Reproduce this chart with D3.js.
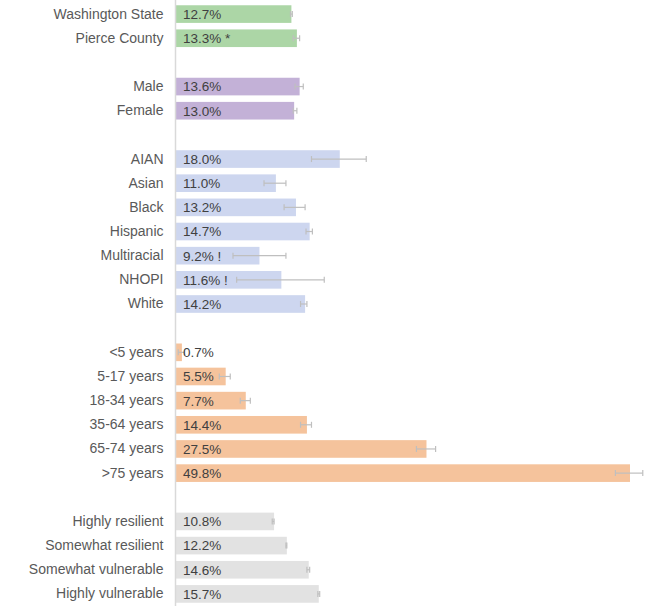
<!DOCTYPE html>
<html>
<head>
<meta charset="utf-8">
<script src="https://cdn.jsdelivr.net/npm/d3@7"></script>
<style>
	body { margin: 0; background: #fff; }
	text { font-family: "Liberation Sans", Arial, sans-serif; }
</style>
</head>
<body>
<div id="plot"></div>
<script>
// rows of the chart, "" = empty spacer row between groups
var categories = ["Washington State", "Pierce County", "",
	"Male", "Female", "",
	"AIAN", "Asian", "Black", "Hispanic", "Multiracial", "NHOPI", "White", "",
	"<5 years", "5-17 years", "18-34 years", "35-64 years", "65-74 years", ">75 years", "",
	"Highly resilient", "Somewhat resilient", "Somewhat vulnerable", "Highly vulnerable"];

var groups = ["geo", "geo", "",
	"sex", "sex", "",
	"race", "race", "race", "race", "race", "race", "race", "",
	"age", "age", "age", "age", "age", "age", "",
	"svi", "svi", "svi", "svi"];

var values = [12.7, 13.3, null,
	13.6, 13.0, null,
	18.0, 11.0, 13.2, 14.7, 9.2, 11.6, 14.2, null,
	0.7, 5.5, 7.7, 14.4, 27.5, 49.8, null,
	10.8, 12.2, 14.6, 15.7];

var lower = [12.6, 12.9, null,
	13.1, 12.9, null,
	14.9, 9.7, 11.9, 14.3, 6.3, 6.7, 13.7, null,
	0.3, 4.8, 7.1, 13.7, 26.4, 48.2, null,
	10.6, 12.1, 14.4, 15.6];

var upper = [12.8, 13.6, null,
	14.0, 13.3, null,
	20.9, 12.1, 14.2, 15.0, 12.1, 16.3, 14.4, null,
	1.0, 6.0, 8.2, 14.9, 28.5, 51.2, null,
	10.8, 12.2, 14.7, 15.8];

var flags = ["", " *", "",
	"", "", "",
	"", "", "", "", " !", " !", "", "",
	"", "", "", "", "", "", "",
	"", "", "", ""];

var groupColours = { geo: "#acd6a6", sex: "#c3b1d7", race: "#cdd6ef", age: "#f5c39c", svi: "#e2e2e2" };

var W = 646, H = 606;
var x0 = 175.5, xMax = 630; // plot area

var svg = d3.select("#plot").append("svg")
	.attr("width", W)
	.attr("height", H);

var rows = categories.map(function (c, i) {
	return { cat: c, key: i, group: groups[i], v: values[i], lo: lower[i], hi: upper[i], flag: flags[i] };
});

var yScale = d3.scaleBand()
	.domain(d3.range(categories.length))
	.range([2, 606])
	.paddingInner(0.27)
	.paddingOuter(0.135);

var xScale = d3.scaleLinear()
	.domain([0, 49.8])
	.range([x0, xMax]);

var data = rows.filter(function (d) { return d.v !== null; });

//bars
svg.append("g")
	.selectAll("rect")
	.data(data)
	.enter().append("rect")
	.attr("x", xScale(0))
	.attr("y", function (d) { return yScale(d.key); })
	.attr("width", function (d) { return xScale(d.v) - xScale(0); })
	.attr("height", yScale.bandwidth())
	.attr("fill", function (d) { return groupColours[d.group]; });

//error bars
var eb = svg.append("g")
	.attr("stroke", "#bfbfbf")
	.attr("stroke-width", 1.2)
	.selectAll("g")
	.data(data)
	.enter().append("g")
	.attr("transform", function (d) { return "translate(0," + (yScale(d.key) + yScale.bandwidth() / 2) + ")"; });

eb.append("line")
	.attr("x1", function (d) { return xScale(d.lo); })
	.attr("x2", function (d) { return xScale(d.hi); });
eb.append("line")
	.attr("x1", function (d) { return xScale(d.lo); })
	.attr("x2", function (d) { return xScale(d.lo); })
	.attr("y1", -3).attr("y2", 3);
eb.append("line")
	.attr("x1", function (d) { return xScale(d.hi); })
	.attr("x2", function (d) { return xScale(d.hi); })
	.attr("y1", -3).attr("y2", 3);

//value labels inside bars
svg.append("g")
	.selectAll("text")
	.data(data)
	.enter().append("text")
	.attr("x", xScale(0) + 7.5)
	.attr("y", function (d) { return yScale(d.key) + yScale.bandwidth() / 2; })
	.attr("dy", "0.36em")
	.attr("font-size", "13.5px")
	.attr("fill", "#404040")
	.text(function (d) { return d.v.toFixed(1) + "%" + d.flag; });

//category axis on the left
var yAxis = d3.axisLeft(yScale)
	.tickFormat(function (i) { return categories[i]; })
	.tickSize(0)
	.tickPadding(12);

var ax = svg.append("g")
	.attr("transform", "translate(" + x0 + ",0)")
	.call(yAxis);
ax.select(".domain").remove();
ax.selectAll("text")
	.attr("font-size", "14px")
	.attr("font-family", "Liberation Sans, Arial, sans-serif")
	.attr("fill", "#595959");

//vertical baseline
svg.append("line")
	.attr("x1", x0).attr("x2", x0)
	.attr("y1", 0).attr("y2", H)
	.attr("stroke", "#d9d9d9")
	.attr("stroke-width", 1.5);
</script>
</body>
</html>
